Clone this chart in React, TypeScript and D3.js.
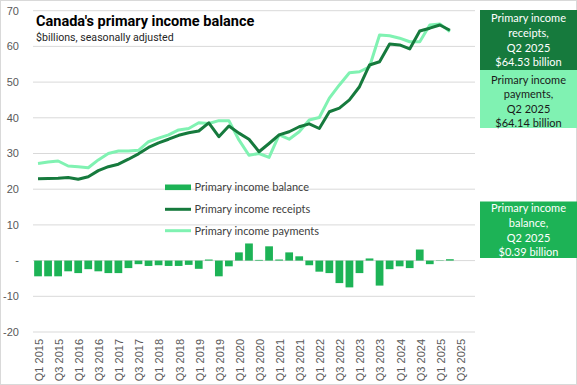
import React from 'react';
import * as d3 from 'd3';

const categories = [
  'Q1 2015','Q2 2015','Q3 2015','Q4 2015','Q1 2016','Q2 2016','Q3 2016','Q4 2016',
  'Q1 2017','Q2 2017','Q3 2017','Q4 2017','Q1 2018','Q2 2018','Q3 2018','Q4 2018',
  'Q1 2019','Q2 2019','Q3 2019','Q4 2019','Q1 2020','Q2 2020','Q3 2020','Q4 2020',
  'Q1 2021','Q2 2021','Q3 2021','Q4 2021','Q1 2022','Q2 2022','Q3 2022','Q4 2022',
  'Q1 2023','Q2 2023','Q3 2023','Q4 2023','Q1 2024','Q2 2024','Q3 2024','Q4 2024',
  'Q1 2025','Q2 2025','Q3 2025','Q4 2025'
];

const receipts = [
  22.9, 23.0, 23.1, 23.3, 22.8, 23.5, 25.2, 26.3, 27.0, 28.4, 29.9, 31.7,
  33.0, 34.0, 35.1, 35.8, 36.3, 38.6, 34.7, 37.7, 35.7, 34.0, 30.5, 32.8,
  35.2, 36.1, 37.5, 38.3, 37.0, 41.7, 42.7, 45.0, 48.7, 54.8, 55.7, 60.7,
  60.4, 59.3, 64.3, 65.1, 66.0, 64.53
];

const payments = [
  27.2, 27.6, 27.9, 26.5, 26.3, 26.0, 28.2, 30.0, 30.7, 30.7, 30.9, 33.3,
  34.3, 35.2, 36.6, 37.0, 38.6, 38.4, 39.2, 39.2, 33.8, 29.5, 30.0, 28.9,
  35.2, 34.0, 36.1, 39.4, 40.1, 45.5, 49.2, 52.6, 52.9, 54.3, 63.2, 63.0,
  62.3, 61.3, 61.3, 66.0, 66.3, 64.14
];

const balance = [
  -4.4, -4.4, -4.4, -3.0, -3.5, -2.4, -3.0, -3.5, -3.5, -2.1, -1.0, -1.5,
  -1.3, -1.5, -1.5, -1.2, -2.3, 0.3, -4.4, -1.6, 2.3, 4.8, 0.2, 4.0,
  0.3, 2.3, 1.2, -1.3, -3.1, -3.5, -6.3, -7.5, -3.5, 0.6, -7.0, -2.4,
  -1.6, -2.1, 3.1, -1.0, -0.1, 0.39
];

const yTicks = [-20, -10, 0, 10, 20, 30, 40, 50, 60, 70];

const legendItems = ['Primary income balance', 'Primary income receipts', 'Primary income payments'];

const boxes = [
  { lines: ['Primary income', 'receipts,', 'Q2 2025', '$64.53 billion'] },
  { lines: ['Primary income', 'payments,', 'Q2 2025', '$64.14 billion'] },
  { lines: ['Primary income', 'balance,', 'Q2 2025', '$0.39 billion'] },
];

const C_BAR = '#1db356';
const C_REC = '#167a3d';
const C_PAY = '#80f2b2';

export default function App() {
  const W = 577, H = 385;
  const x = d3.scaleBand<string>().domain(categories).range([33, 475]).paddingInner(0.23).paddingOuter(0.115);
  const y = d3.scaleLinear().domain([-20, 70]).range([332, 10.7]);
  const bw = x.bandwidth();
  const cx = (i: number) => (x(categories[i]) as number) + bw / 2;
  const line = d3.line<number>().x((_, i) => cx(i)).y(d => y(d));
  const axisFont = "'Liberation Sans', Arial, sans-serif";
  const uiFont = "Lato, 'Noto Sans', sans-serif";

  const boxLayout = [
    { y0: 10, y1: 70, fill: C_REC, color: '#ffffff', lineY: [18.5, 33.2, 48, 62.5] },
    { y0: 70, y1: 128, fill: C_PAY, color: '#1a1a1a', lineY: [80, 94.5, 109, 123.5] },
    { y0: 201.5, y1: 258, fill: C_BAR, color: '#ffffff', lineY: [208.5, 223.3, 238.2, 252.5] },
  ];

  return (
    <svg width={W} height={H} style={{ position: 'absolute', left: 0, top: 0 }}>
      <rect x={0} y={0} width={W} height={H} fill="#ffffff" />
      <rect x={0.5} y={0.5} width={W - 1} height={H - 1} fill="none" stroke="#d9d9d9" />
      {yTicks.map(t => (
        <g key={t}>
          <line x1={33} x2={475} y1={y(t)} y2={y(t)} stroke="#d9d9d9" strokeWidth={1} />
          <text x={19} y={y(t)} dy="0.35em" textAnchor="end" fontFamily={axisFont} fontSize={11} fill="#595959">
            {t === 0 ? '-' : t}
          </text>
        </g>
      ))}
      {categories.map((c, i) => i % 2 === 0 ? (
        <text key={c} transform={`translate(${cx(i) + 1},${339}) rotate(-90)`} dy="0.35em" textAnchor="end"
          fontFamily={axisFont} fontSize={11} fill="#595959">{c}</text>
      ) : null)}
      {balance.map((v, i) => (
        <rect key={i} x={x(categories[i]) as number} width={bw} y={Math.min(y(v), y(0))}
          height={Math.abs(y(v) - y(0))} fill={C_BAR} />
      ))}
      <path d={line(payments) || ''} fill="none" stroke={C_PAY} strokeWidth={3} strokeLinejoin="round" />
      <path d={line(receipts) || ''} fill="none" stroke={C_REC} strokeWidth={3} strokeLinejoin="round" />
      <text x={36} y={26} fontFamily={"Roboto, 'Noto Sans', sans-serif"} fontWeight="bold" fontSize={14.5} fill="#000">
        Canada's primary income balance
      </text>
      <text x={36} y={40.5} fontFamily={"Roboto, 'Noto Sans', sans-serif"} fontSize={10.6} fill="#262626">
        $billions, seasonally adjusted
      </text>
      {legendItems.map((t, i) => {
        const ly = [187.3, 209.3, 230.7][i];
        return (
          <g key={t}>
            {i === 0 ? (
              <rect x={165} y={ly - 2.8} width={26} height={5.6} fill={C_BAR} />
            ) : (
              <line x1={165} x2={191} y1={ly} y2={ly} stroke={i === 1 ? C_REC : C_PAY} strokeWidth={3} />
            )}
            <text x={194.5} y={ly} dy="0.35em" fontFamily={uiFont} fontSize={11} fill="#404040">{t}</text>
          </g>
        );
      })}
      {boxes.map((b, k) => {
        const L = boxLayout[k];
        return (
          <g key={k}>
            <rect x={480} y={L.y0} width={97} height={L.y1 - L.y0} fill={L.fill} />
            {b.lines.map((s, j) => (
              <text key={j} x={528.5} y={L.lineY[j]} dy="0.35em" textAnchor="middle" fontFamily={uiFont}
                fontSize={11} fill={L.color}>{s}</text>
            ))}
          </g>
        );
      })}
    </svg>
  );
}
